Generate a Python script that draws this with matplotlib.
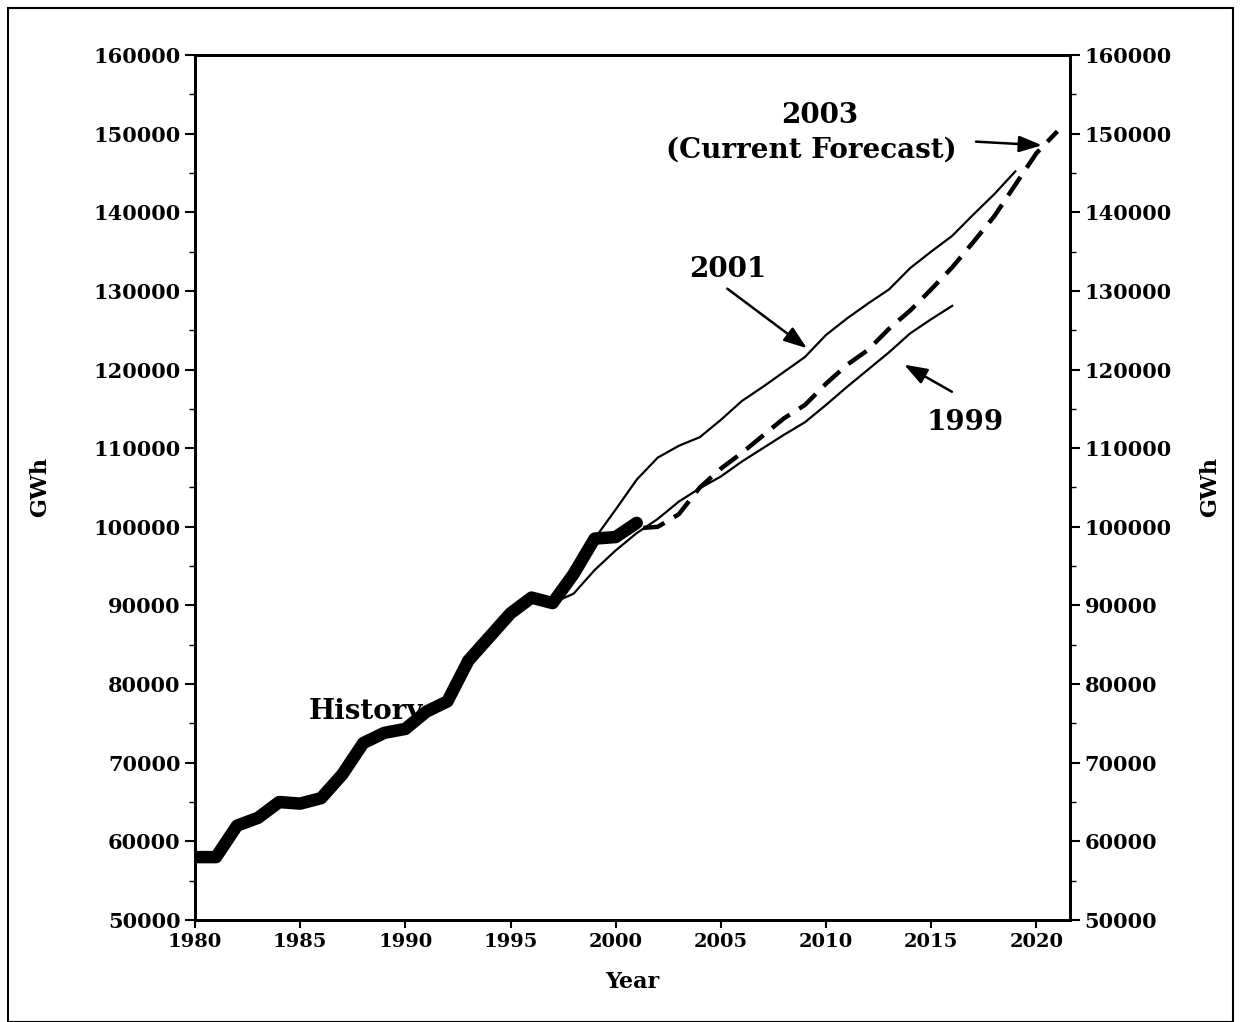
import matplotlib
matplotlib.use("Agg")
import matplotlib.pyplot as plt
from matplotlib.ticker import MultipleLocator
from matplotlib.patches import Rectangle

plt.rcParams['font.family'] = ['DejaVu Serif']
plt.rcParams['font.weight'] = 'bold'

hist_years = list(range(1980, 2002))
hist_vals = [58000, 58000, 62000, 63000, 65000, 64800, 65500, 68500, 72500, 73800, 74300,
             76500, 77800, 83000, 86000, 89000, 91000, 90300, 94000, 98500, 98700, 100500]

f03_years = list(range(1980, 2022))
f03_vals = [58000, 58000, 62000, 63000, 65000, 64800, 65500, 68500, 72500, 73800, 74300,
            76500, 77800, 83000, 86000, 89000, 91000, 90300, 94000, 98500, 98700, 99800,
            100000, 101600, 105000, 107400, 109400, 111600, 113800, 115500, 118200, 120600,
            122500, 125200, 127500, 130200, 133000, 136200, 139500, 143500, 147500, 150300]

f01_years = list(range(1997, 2020))
f01_vals = [90500, 94000, 98500, 102200, 106000, 108800, 110300, 111400, 113600, 116000,
            117800, 119700, 121600, 124400, 126500, 128400, 130200, 132900, 135000, 137000,
            139700, 142300, 145200]

f99_years = list(range(1997, 2017))
f99_vals = [90300, 91500, 94500, 97000, 99200, 101000, 103200, 104900, 106400, 108300,
            110000, 111700, 113300, 115500, 117800, 120000, 122200, 124600, 126400, 128100]

fig = plt.figure(figsize=(12.41, 10.22), dpi=100)
ax = fig.add_axes([195/1241, 1 - 920/1022, 875/1241, 865/1022])
fig.patches.append(Rectangle((8/1241, 0), 1225/1241, 1 - 8/1022, transform=fig.transFigure,
                             fill=False, lw=1.5, ec='black'))

ax.plot(f99_years, f99_vals, color='black', lw=1.6)
ax.plot(f01_years, f01_vals, color='black', lw=1.6)
ax.plot(hist_years, hist_vals, color='black', lw=9, solid_capstyle='round')
ax.plot(f03_years, f03_vals, color='black', lw=3.2, dashes=(5, 2.5))

ax.set_xlim(1980, 2021.6)
ax.set_ylim(50000, 160000)
ax.xaxis.set_major_locator(MultipleLocator(5))
ax2 = ax.twinx()
for a in (ax, ax2):
    a.set_ylim(50000, 160000)
    a.yaxis.set_major_locator(MultipleLocator(10000))
    a.yaxis.set_minor_locator(MultipleLocator(5000))
    a.tick_params(axis='y', which='major', length=7, width=1.5, labelsize=15, direction='out')
    a.tick_params(axis='y', which='minor', length=4, width=1, direction='out')
    for s in a.spines.values():
        s.set_linewidth(2)
ax.tick_params(axis='x', length=6, width=1.5, labelsize=14)
ax.set_xlabel('Year', fontsize=16, fontweight='bold', labelpad=14)
ax.set_ylabel('GWh', fontsize=16, fontweight='bold', labelpad=30)
ax2.set_ylabel('GWh', fontsize=16, fontweight='bold', labelpad=20)

ax.text(1985.4, 75500, 'History', fontsize=20, fontweight='bold')
ax.text(2009.7, 151300, '2003', fontsize=20, fontweight='bold', ha='center')
ax.text(2009.3, 147000, '(Current Forecast)', fontsize=20, fontweight='bold', ha='center')
ax.annotate('', xy=(2020.4, 148500), xytext=(2017.0, 149000),
            arrowprops=dict(arrowstyle='-|>,head_length=1.4,head_width=0.5', color='black', lw=1.8))
ax.text(2003.5, 131800, '2001', fontsize=20, fontweight='bold')
ax.annotate('', xy=(2009.2, 122500), xytext=(2005.2, 130500),
            arrowprops=dict(arrowstyle='-|>,head_length=1.4,head_width=0.5', color='black', lw=1.8))
ax.text(2014.8, 112300, '1999', fontsize=20, fontweight='bold')
ax.annotate('', xy=(2013.6, 120800), xytext=(2016.1, 117000),
            arrowprops=dict(arrowstyle='-|>,head_length=1.4,head_width=0.5', color='black', lw=1.8))

fig.savefig('out.png', dpi=100)
